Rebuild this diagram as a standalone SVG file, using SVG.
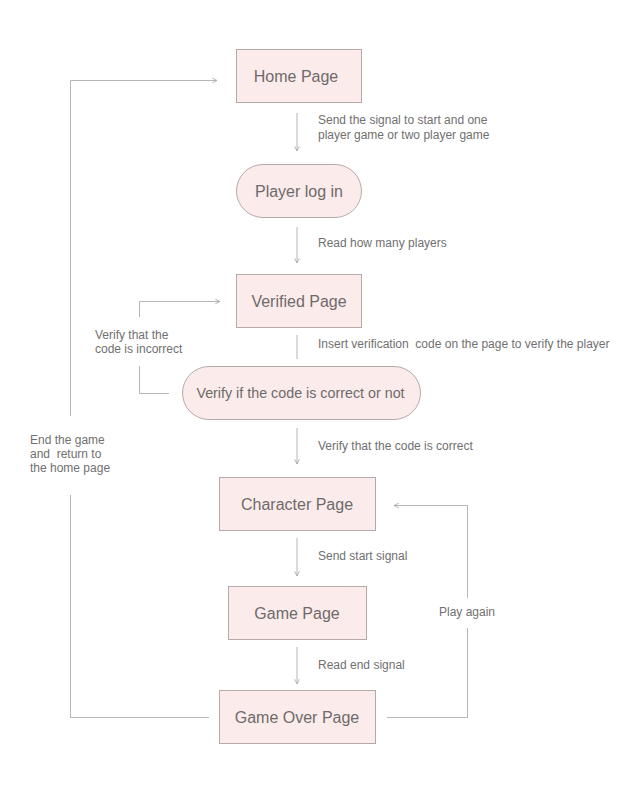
<svg xmlns="http://www.w3.org/2000/svg" width="639" height="789" viewBox="0 0 639 789">
<defs>
<style>
.node{fill:#fbeceb;stroke:#b4aaaa;stroke-width:1}
.nt{font-family:"Liberation Sans",Arial,sans-serif;font-size:16px;fill:#6f6a6a;text-anchor:middle}
.lt{font-family:"Liberation Sans",Arial,sans-serif;font-size:12px;fill:#707070}
.ln{fill:none;stroke:#b6b6b6;stroke-width:1}
</style>
<marker id="ah" viewBox="0 0 10 10" refX="9" refY="5" markerWidth="6" markerHeight="6" markerUnits="userSpaceOnUse" orient="auto">
<path d="M1,1 L9,5 L1,9" fill="none" stroke="#a8a8a8" stroke-width="1.4"/>
</marker>
</defs>
<rect width="639" height="789" fill="#ffffff"/>
<g id="connectors">
<line class="ln" x1="297" y1="113" x2="297" y2="151" marker-end="url(#ah)"/>
<line class="ln" x1="297" y1="227" x2="297" y2="263" marker-end="url(#ah)"/>
<line class="ln" x1="297" y1="335" x2="297" y2="359"/>
<line class="ln" x1="297" y1="428" x2="297" y2="464" marker-end="url(#ah)"/>
<line class="ln" x1="297" y1="538" x2="297" y2="576" marker-end="url(#ah)"/>
<line class="ln" x1="297" y1="647" x2="297" y2="684" marker-end="url(#ah)"/>
<polyline class="ln" points="139.5,317 139.5,301.5 220,301.5" marker-end="url(#ah)"/>
<polyline class="ln" points="139.5,366 139.5,393.5 169,393.5"/>
<polyline class="ln" points="209,717.5 70.5,717.5 70.5,495"/>
<polyline class="ln" points="70.5,416 70.5,80.5 217,80.5" marker-end="url(#ah)"/>
<polyline class="ln" points="387,717.5 467.5,717.5 467.5,628"/>
<polyline class="ln" points="467.5,598 467.5,505.5 394,505.5" marker-end="url(#ah)"/>
<text class="lt" x="318" y="124">Send the signal to start and one</text>
<text class="lt" x="318" y="139">player game or two player game</text>
<text class="lt" x="318" y="247">Read how many players</text>
<text class="lt" x="95" y="339">Verify that the</text>
<text class="lt" x="95" y="353">code is incorrect</text>
<text class="lt" x="318" y="348" xml:space="preserve">Insert verification  code on the page to verify the player</text>
<text class="lt" x="318" y="450">Verify that the code is correct</text>
<text class="lt" x="30" y="444">End the game</text>
<text class="lt" x="30" y="458" xml:space="preserve">and  return to</text>
<text class="lt" x="30" y="472">the home page</text>
<text class="lt" x="318" y="560">Send start signal</text>
<text class="lt" x="439" y="616">Play again</text>
<text class="lt" x="318" y="669">Read end signal</text>
</g>
<g id="home"><rect class="node" x="236.5" y="49.5" width="125" height="53"/><text class="nt" x="296" y="82">Home Page</text></g>
<g id="login"><rect class="node" x="236.5" y="164.5" width="125" height="53" rx="26.5"/><text class="nt" x="299" y="197">Player log in</text></g>
<g id="verified"><rect class="node" x="236.5" y="274.5" width="125" height="53"/><text class="nt" x="299" y="307">Verified Page</text></g>
<g id="verify"><rect class="node" x="182.5" y="366.5" width="238" height="53" rx="26.5"/><text class="nt" x="300.5" y="398" style="font-size:14.3px">Verify if the code is correct or not</text></g>
<g id="character"><rect class="node" x="219.5" y="477.5" width="156" height="53"/><text class="nt" x="297" y="510">Character Page</text></g>
<g id="game"><rect class="node" x="228.5" y="586.5" width="138" height="53"/><text class="nt" x="297" y="619">Game Page</text></g>
<g id="gameover"><rect class="node" x="219.5" y="690.5" width="156" height="53"/><text class="nt" x="297" y="723">Game Over Page</text></g>
</svg>
